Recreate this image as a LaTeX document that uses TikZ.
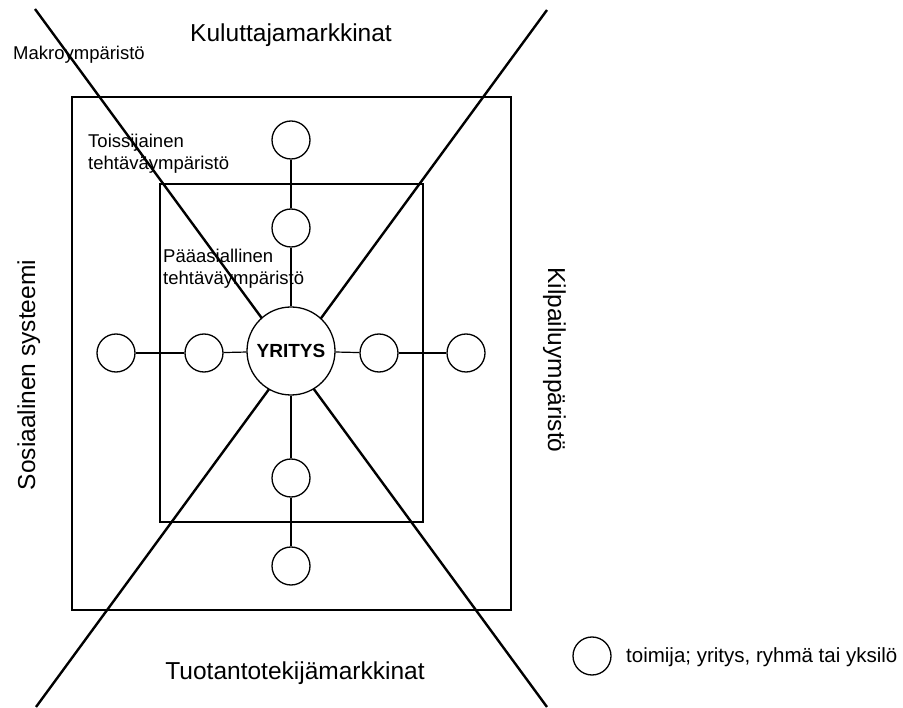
\documentclass[tikz,border=0pt]{standalone}
\usepackage{fontspec}
\setmainfont{Liberation Sans}
\newcommand{\biglabel}{\fontsize{24.5}{29}\selectfont}
\newcommand{\smalllabel}{\fontsize{18.5}{21.5}\selectfont}

\begin{document}
\begin{tikzpicture}[x=1pt, y=-1pt,
		actor/.style={draw, circle, line width=1.3pt, fill=white, inner sep=0pt, minimum size=38pt},
		firm/.style={draw, circle, line width=1.3pt, fill=white, inner sep=0pt, minimum size=88pt, font=\fontsize{19}{22}\selectfont\bfseries},
		link/.style={line width=1.2pt},
		cross/.style={line width=2.4pt},
		frame/.style={line width=1.2pt},
		area/.style={anchor=base west, inner sep=0pt, align=left, font=\smalllabel}]
	\useasboundingbox (0,0) rectangle (903,708);

	% Frames and the two diagonals
	\draw[frame] (72,97)  rectangle (511,610);
	\draw[frame] (160,184) rectangle (423,522);
	\coordinate (TL) at (35,9);
	\coordinate (TR) at (547,10);
	\coordinate (BL) at (36,707);
	\coordinate (BR) at (547,707);
	\draw[cross] (TL) -- (BR);
	\draw[cross] (TR) -- (BL);

	% Actors
	\node (Y)  at (291,351) [firm] {YRITYS};
	\node (N1) at (291,228) [actor] {};
	\node (N2) at (291,140) [actor] {};
	\node (W1) at (204,353) [actor] {};
	\node (W2) at (116,353) [actor] {};
	\node (E1) at (379,353) [actor] {};
	\node (E2) at (466,353) [actor] {};
	\node (S1) at (291,478) [actor] {};
	\node (S2) at (291,566) [actor] {};
	\node (L)  at (592,656) [actor] {};

	% Connect the actors
	\draw[link] (Y) -- (N1);
	\draw[link] (N1) -- (N2);
	\draw[link] (Y) -- (W1);
	\draw[link] (W1) -- (W2);
	\draw[link] (Y) -- (E1);
	\draw[link] (E1) -- (E2);
	\draw[link] (Y) -- (S1);
	\draw[link] (S1) -- (S2);

	% Labels
	\node (top)    at (291,42)  [anchor=base, inner sep=0pt] {\biglabel Kuluttajamarkkinat};
	\node (bottom) at (295,679) [anchor=base, inner sep=0pt] {\biglabel Tuotantotekijämarkkinat};
	\node (left)   at (35,375)  [anchor=base, rotate=90, inner sep=0pt] {\biglabel Sosiaalinen systeemi};
	\node (right)  at (548,360) [anchor=base, rotate=-90, inner sep=0pt] {\biglabel Kilpailuympäristö};
	\node (macro)  at (13,60)   [area] {Makroympäristö};
	\node (second) at (88,169.5)  [area] {Toissijainen\\tehtäväympäristö};
	\node (first)  at (163,284.5) [area] {Pääasiallinen\\tehtäväympäristö};
	\node (legend) at (626,662) [anchor=base west, inner sep=0pt, font=\fontsize{20.5}{24}\selectfont] {toimija; yritys, ryhmä tai yksilö};
\end{tikzpicture}
\end{document}
